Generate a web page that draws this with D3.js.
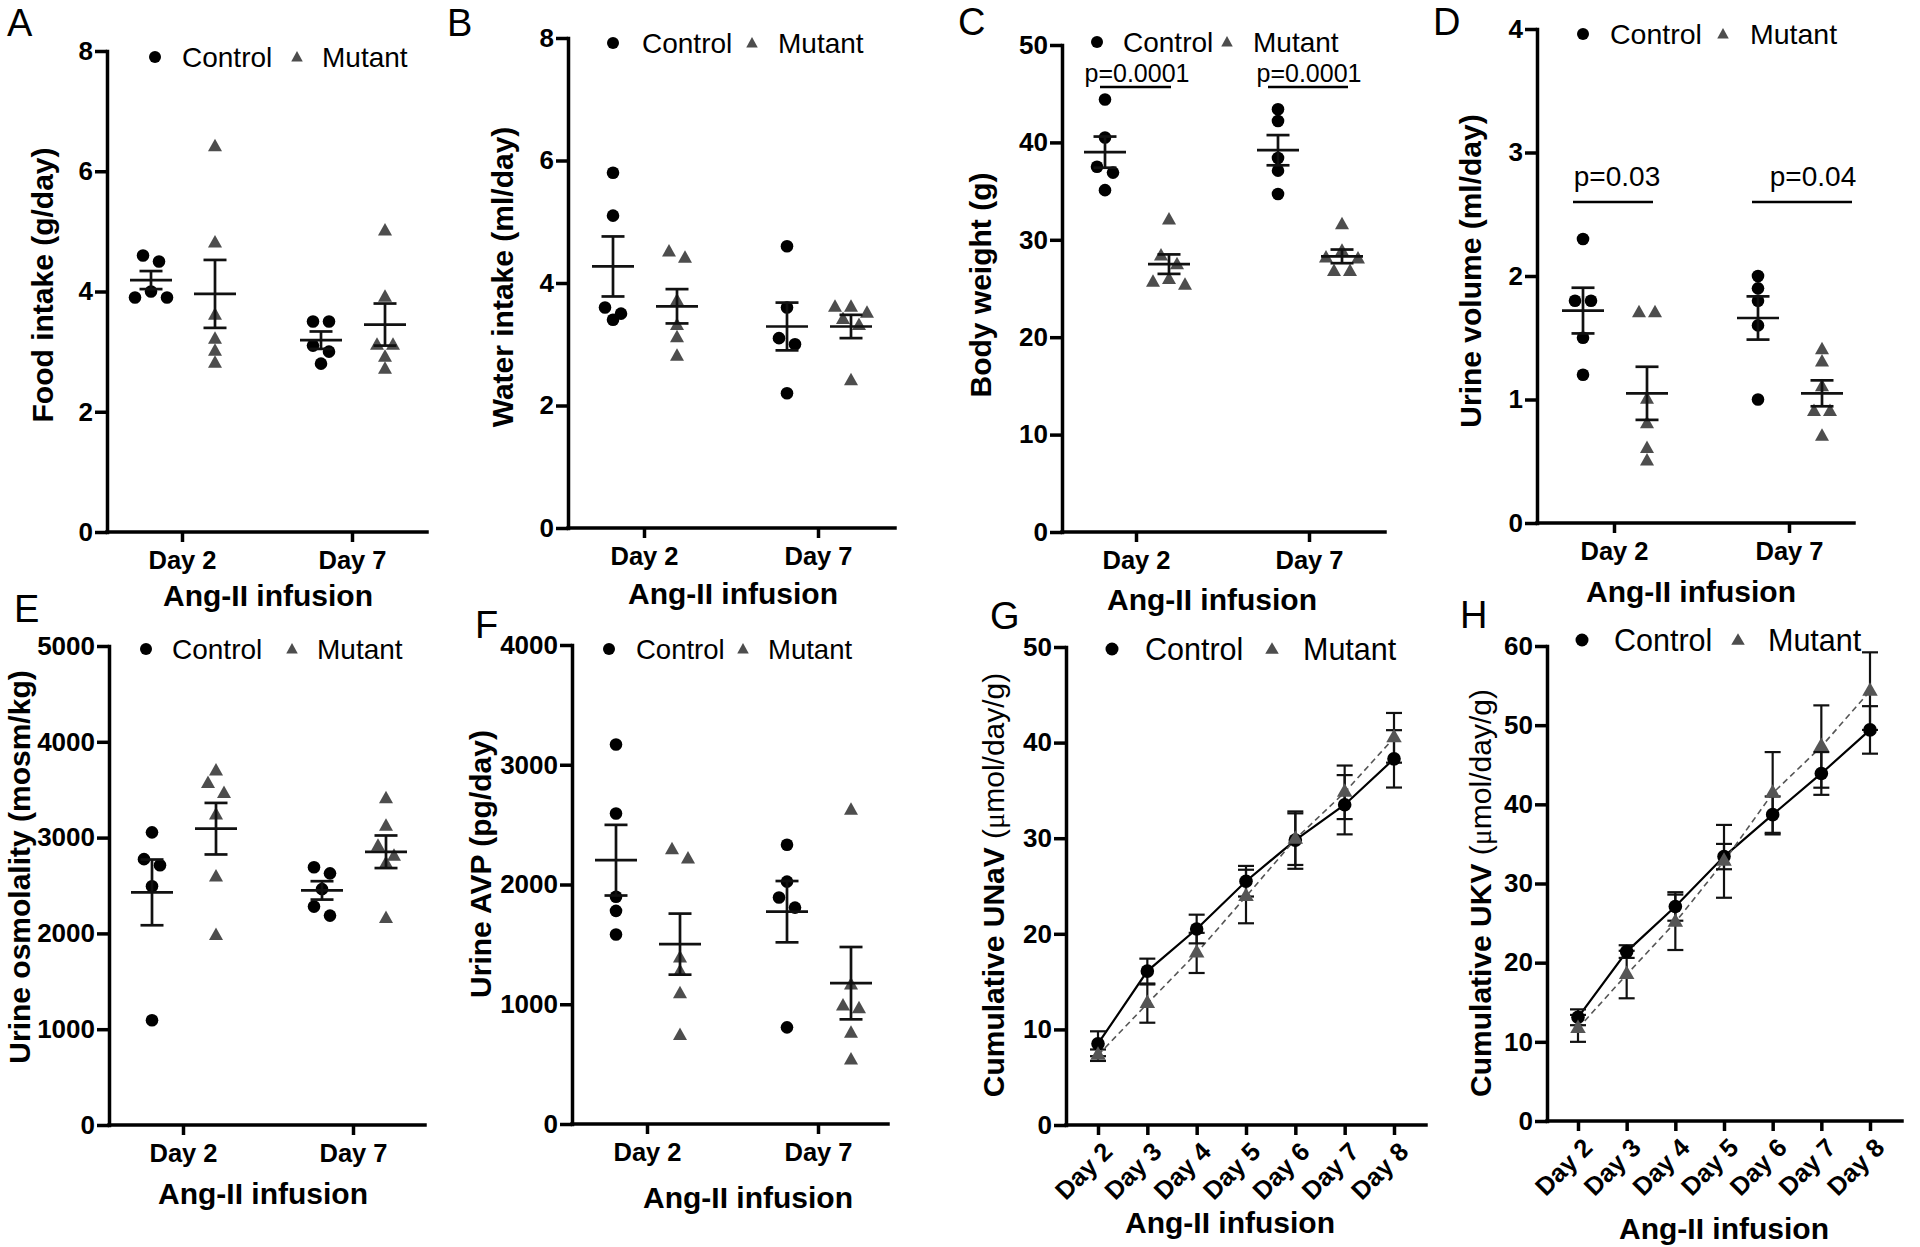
<!DOCTYPE html>
<html><head><meta charset="utf-8">
<script src="https://cdn.jsdelivr.net/npm/d3@7/dist/d3.min.js"></script>
<style>
body{margin:0;background:#fff;}
svg{display:block;font-family:"Liberation Sans",Arial,Helvetica,sans-serif;}
</style></head><body>
<svg id="chart" width="1920" height="1247"></svg>
<script>
// ---------------- DATA ----------------
const dayCats = ["Day 2", "Day 7"];
const seriesDays = ["Day 2","Day 3","Day 4","Day 5","Day 6","Day 7","Day 8"];
const groupNames = ["Control", "Mutant"];

// A: Food intake (g/day)
const foodTicks = [0, 2, 4, 6, 8];
const foodControl = [[4.6, 4.5, 4.0, 3.9, 3.9], [3.5, 3.5, 3.1, 3.0, 2.8]];
const foodMutant  = [[6.4, 4.8, 3.6, 3.2, 3.0, 2.8], [5.0, 3.9, 3.1, 3.1, 2.9, 2.7]];
const foodControlMean = [4.19, 3.19], foodControlSem = [0.15, 0.145];
const foodMutantMean  = [3.96, 3.45], foodMutantSem  = [0.565, 0.35];

// B: Water intake (ml/day)
const waterTicks = [0, 2, 4, 6, 8];
const waterControl = [[5.8, 5.1, 3.6, 3.5, 3.4], [4.6, 3.6, 3.1, 3.0, 2.2]];
const waterMutant  = [[4.5, 4.4, 3.7, 3.3, 3.1, 2.8], [3.6, 3.6, 3.5, 3.4, 3.3, 2.4]];
const waterControlMean = [4.27, 3.29], waterControlSem = [0.49, 0.39];
const waterMutantMean  = [3.62, 3.29], waterMutantSem  = [0.28, 0.19];

// C: Body weight (g)
const weightTicks = [0, 10, 20, 30, 40, 50];
const weightControl = [[44.4, 40.5, 37.5, 36.9, 35.1], [43.4, 42.2, 38.4, 37.1, 34.7]];
const weightMutant  = [[32.0, 28.3, 27.4, 25.9, 25.6, 25.3], [31.5, 28.8, 28.1, 28.0, 26.7, 26.7]];
const weightControlMean = [39.0, 39.2], weightControlSem = [1.6, 1.55];
const weightMutantMean  = [27.5, 28.3], weightMutantSem  = [1.0, 0.7];
const weightPLabels = ["p=0.0001", "p=0.0001"];

// D: Urine volume (ml/day)
const volumeTicks = [0, 1, 2, 3, 4];
const volumeControl = [[2.3, 1.8, 1.8, 1.5, 1.2], [2.0, 1.9, 1.8, 1.6, 1.0]];
const volumeMutant  = [[1.7, 1.7, 1.0, 0.8, 0.6, 0.5], [1.4, 1.3, 1.1, 0.9, 0.9, 0.7]];
const volumeControlMean = [1.72, 1.66], volumeControlSem = [0.185, 0.175];
const volumeMutantMean  = [1.05, 1.05], volumeMutantSem  = [0.215, 0.105];
const volumePLabels = ["p=0.03", "p=0.04"];

// E: Urine osmolality (mosm/kg)
const osmoTicks = [0, 1000, 2000, 3000, 4000, 5000];
const osmoControl = [[3055, 2775, 2712, 2492, 1093], [2691, 2627, 2462, 2280, 2186]];
const osmoMutant  = [[3691, 3560, 3458, 3233, 2585, 1975], [3403, 3114, 2907, 2801, 2725, 2153]];
const osmoControlMean = [2428, 2449], osmoControlSem = [343, 96];
const osmoMutantMean  = [3093, 2852], osmoMutantSem  = [269, 170];

// F: Urine AVP (pg/day)
const avpTicks = [0, 1000, 2000, 3000, 4000];
const avpControl = [[3169, 2593, 1898, 1780, 1583], [2332, 2024, 1892, 1807, 807]];
const avpMutant  = [[2288, 2210, 1383, 1271, 1085, 736], [2617, 1159, 983, 959, 756, 532]];
const avpControlMean = [2203, 1773], avpControlSem = [295, 256];
const avpMutantMean  = [1502, 1176], avpMutantSem  = [255, 302];

// G: Cumulative UNaV
const unavTicks = [0, 10, 20, 30, 40, 50];
const unavControlMean = [8.5, 16.1, 20.5, 25.5, 29.8, 33.5, 38.3];
const unavControlSem  = [1.3, 1.3, 1.5, 1.6, 3.0, 3.1, 3.0];
const unavMutantMean  = [7.3, 12.7, 18.0, 23.9, 29.9, 34.8, 40.5];
const unavMutantSem   = [0.6, 2.0, 2.1, 2.8, 2.7, 2.8, 2.6];

// H: Cumulative UKV
const ukvTicks = [0, 10, 20, 30, 40, 50, 60];
const ukvControlMean = [13.1, 21.4, 27.1, 33.4, 38.7, 43.9, 49.4];
const ukvControlSem  = [1.0, 0.8, 1.8, 1.6, 2.3, 2.7, 3.0];
const ukvMutantMean  = [11.7, 18.5, 25.1, 32.8, 41.4, 47.3, 54.3];
const ukvMutantSem   = [1.7, 3.0, 3.5, 4.6, 5.2, 5.2, 4.9];

// ---------------- STYLE ----------------
const CTRL = "#000", MUT = "#4d4d4d";
const AXW = 3.5, YTICK_FS = 26, XTICK_FS = 25.5, TITLE_FS = 30, LETTER_FS = 38;
const svg = d3.select("#chart");

function triPath(cx, cy, w, h) {
  return `M${cx},${cy - h * 2 / 3}L${cx + w / 2},${cy + h / 3}L${cx - w / 2},${cy + h / 3}Z`;
}

function panelLetter(t, x, y) {
  svg.append("text").attr("x", x).attr("y", y).attr("font-size", LETTER_FS).attr("fill", "#000").text(t);
}

function legend(L) {
  const g = svg.append("g");
  const fs = L.fs || 28;
  g.append("circle").attr("cx", L.cx).attr("cy", L.y).attr("r", L.r || 6).attr("fill", CTRL);
  g.append("text").attr("x", L.ctx).attr("y", L.y).attr("dy", "0.36em").attr("font-size", fs).text(groupNames[0]);
  g.append("path").attr("d", triPath(L.tx, L.y + 1, L.tw || 11.5, L.th || 10.5)).attr("fill", MUT);
  g.append("text").attr("x", L.mtx).attr("y", L.y).attr("dy", "0.36em").attr("font-size", fs).text(groupNames[1]);
}

function yTitle(parts, cx, cy) {
  const t = svg.append("text").attr("transform", `translate(${cx},${cy}) rotate(-90)`)
    .attr("text-anchor", "middle").attr("dy", "0.36em").attr("font-size", TITLE_FS).attr("font-weight", "bold");
  parts.forEach(p => {
    const s = t.append("tspan").text(p.t);
    if (p.serif) s.attr("font-family", '"Liberation Serif","DejaVu Serif",serif');
    if (p.normal) s.attr("font-weight", "normal");
  });
}

function xTitle(t, cx, cy) {
  svg.append("text").attr("x", cx).attr("y", cy).attr("dy", "0.36em").attr("text-anchor", "middle")
    .attr("font-size", TITLE_FS).attr("font-weight", "bold").text(t);
}

function styleAxis(ag) {
  ag.selectAll(".domain").attr("stroke", "#000").attr("stroke-width", AXW).attr("stroke-linecap", "square");
  ag.selectAll(".tick line").attr("stroke", "#000").attr("stroke-width", AXW);
  ag.selectAll("text").attr("fill", "#000").attr("font-weight", "bold");
  ag.attr("font-family", null);
}

function drawAxes(c, x, y, rotate) {
  const ya = d3.axisLeft(y).tickValues(c.ticks).tickSize(12).tickSizeOuter(0).tickPadding(2).tickFormat(d3.format("d"));
  const yg = svg.append("g").attr("transform", `translate(${c.x0},0)`).call(ya);
  yg.attr("font-size", YTICK_FS);
  styleAxis(yg);
  const xa = d3.axisBottom(x).tickSize(10).tickSizeOuter(0).tickPadding(9);
  const xg = svg.append("g").attr("transform", `translate(0,${c.yBot})`).call(xa);
  xg.attr("font-size", XTICK_FS);
  xg.select(".domain").remove();
  xg.append("line").attr("x1", c.x0).attr("x2", c.x1).attr("stroke", "#000").attr("stroke-width", AXW).attr("stroke-linecap", "square");
  styleAxis(xg);
  if (rotate) {
    xg.selectAll(".tick text").attr("text-anchor", "end").attr("x", -9).attr("y", 13).attr("dy", "0.7em")
      .attr("transform", "rotate(-45)");
  }
}

// GraphPad-style row placement of scatter points
function swarm(vals, y, spacing, tol) {
  const items = vals.map(v => ({ v, y: y(v) }));
  const sorted = items.slice().sort((a, b) => a.y - b.y);
  const rows = [];
  sorted.forEach(it => {
    const r = rows[rows.length - 1];
    if (r && Math.abs(it.y - r[0].y) < tol) r.push(it); else rows.push([it]);
  });
  rows.forEach(r => {
    const n = r.length;
    const pos = d3.range(n).map(k => (k - (n - 1) / 2) * spacing).sort((a, b) => Math.abs(a) - Math.abs(b) || a - b);
    r.forEach((it, k) => it.dx = pos[k]);
  });
  return items;
}

function scatterPanel(c) {
  const x = d3.scalePoint().domain(dayCats).range([c.xd2, c.xd7]);
  const y = d3.scaleLinear().domain([0, c.ticks[c.ticks.length - 1]]).range([c.yBot, c.yTop]);
  drawAxes(c, x, y, false);
  const groups = [
    { vals: c.control, mean: c.cMean, sem: c.cSem, off: -31, color: CTRL, shape: "c" },
    { vals: c.mutant, mean: c.mMean, sem: c.mSem, off: 33, color: MUT, shape: "t" }
  ];
  groups.forEach(gr => {
    dayCats.forEach((d, i) => {
      const cx = x(d) + gr.off;
      const pts = swarm(gr.vals[i], y, 16, 11);
      const g = svg.append("g");
      pts.forEach(p => {
        if (gr.shape === "c") g.append("circle").attr("cx", cx + p.dx).attr("cy", p.y).attr("r", 6.3).attr("fill", gr.color);
        else g.append("path").attr("d", triPath(cx + p.dx, p.y, 14, 12.5)).attr("fill", gr.color);
      });
      const m = gr.mean[i], s = gr.sem[i];
      const e = svg.append("g").attr("stroke", "#111").attr("stroke-width", 2.7);
      e.append("line").attr("x1", cx - 21).attr("x2", cx + 21).attr("y1", y(m)).attr("y2", y(m));
      e.append("line").attr("x1", cx).attr("x2", cx).attr("y1", y(m - s)).attr("y2", y(m + s));
      e.append("line").attr("x1", cx - 11.5).attr("x2", cx + 11.5).attr("y1", y(m + s)).attr("y2", y(m + s));
      e.append("line").attr("x1", cx - 11.5).attr("x2", cx + 11.5).attr("y1", y(m - s)).attr("y2", y(m - s));
    });
  });
  if (c.pLabels) {
    c.pLabels.forEach((t, i) => {
      const a = c.pPos[i], xc = x(dayCats[i]);
      svg.append("line").attr("x1", xc + a.l).attr("x2", xc + a.r).attr("y1", a.barY).attr("y2", a.barY)
        .attr("stroke", "#000").attr("stroke-width", 2.5);
      svg.append("text").attr("x", xc + a.tdx).attr("y", a.ty).attr("dy", "0.36em").attr("text-anchor", "middle")
        .attr("font-size", c.pFs).text(t);
    });
  }
  legend(c.leg);
  yTitle(c.ytitle, c.ytx, c.yty);
  xTitle("Ang-II infusion", c.xtx, c.xty);
  panelLetter(c.letter, c.lx, c.ly);
}

function linePanel(c) {
  const x = d3.scalePoint().domain(seriesDays).range([c.xd2, c.xd8]);
  const y = d3.scaleLinear().domain([0, c.ticks[c.ticks.length - 1]]).range([c.yBot, c.yTop]);
  drawAxes(c, x, y, true);
  const series = [
    { mean: c.cMean, sem: c.cSem, color: CTRL, dash: null, lw: 2.2, shape: "c" },
    { mean: c.mMean, sem: c.mSem, color: "#555", dash: "6,4", lw: 1.6, shape: "t" }
  ];
  const line = d3.line().x((d, i) => x(seriesDays[i])).y(d => y(d));
  series.forEach(s => {
    svg.append("path").attr("d", line(s.mean)).attr("fill", "none").attr("stroke", s.color)
      .attr("stroke-width", s.lw).attr("stroke-dasharray", s.dash);
  });
  series.forEach(s => {
    const e = svg.append("g").attr("stroke", "#111").attr("stroke-width", 2.2);
    s.mean.forEach((m, i) => {
      const cx = x(seriesDays[i]), sm = s.sem[i];
      e.append("line").attr("x1", cx).attr("x2", cx).attr("y1", y(m - sm)).attr("y2", y(m + sm));
      e.append("line").attr("x1", cx - 8).attr("x2", cx + 8).attr("y1", y(m + sm)).attr("y2", y(m + sm));
      e.append("line").attr("x1", cx - 8).attr("x2", cx + 8).attr("y1", y(m - sm)).attr("y2", y(m - sm));
    });
  });
  series.forEach(s => {
    s.mean.forEach((m, i) => {
      const cx = x(seriesDays[i]);
      if (s.shape === "c") svg.append("circle").attr("cx", cx).attr("cy", y(m)).attr("r", 6.8).attr("fill", s.color);
      else svg.append("path").attr("d", triPath(cx, y(m), 15.5, 13.5)).attr("fill", s.color);
    });
  });
  legend(c.leg);
  yTitle(c.ytitle, c.ytx, c.yty);
  xTitle("Ang-II infusion", c.xtx, c.xty);
  panelLetter(c.letter, c.lx, c.ly);
}

// ---------------- PANELS ----------------
scatterPanel({ letter: "A", lx: 7, ly: 36, x0: 107, x1: 427, yTop: 51, yBot: 532, xd2: 182, xd7: 352,
  ticks: foodTicks, control: foodControl, mutant: foodMutant,
  cMean: foodControlMean, cSem: foodControlSem, mMean: foodMutantMean, mSem: foodMutantSem,
  leg: { cx: 155, ctx: 182, tx: 297, mtx: 322, y: 57 },
  ytitle: [{ t: "Food intake (g/day)" }], ytx: 42, yty: 285, xtx: 268, xty: 595 });

scatterPanel({ letter: "B", lx: 447, ly: 36, x0: 568, x1: 895, yTop: 38, yBot: 528, xd2: 644, xd7: 818,
  ticks: waterTicks, control: waterControl, mutant: waterMutant,
  cMean: waterControlMean, cSem: waterControlSem, mMean: waterMutantMean, mSem: waterMutantSem,
  leg: { cx: 613, ctx: 642, tx: 752, mtx: 778, y: 43 },
  ytitle: [{ t: "Water intake (ml/day)" }], ytx: 502, yty: 277, xtx: 733, xty: 593 });

scatterPanel({ letter: "C", lx: 958, ly: 35, x0: 1062, x1: 1385, yTop: 45, yBot: 532, xd2: 1136, xd7: 1309,
  ticks: weightTicks, control: weightControl, mutant: weightMutant,
  cMean: weightControlMean, cSem: weightControlSem, mMean: weightMutantMean, mSem: weightMutantSem,
  pLabels: weightPLabels, pFs: 25,
  pPos: [{ l: -36, r: 35, barY: 87, ty: 73, tdx: 1 }, { l: -41, r: 39, barY: 87, ty: 73, tdx: 0 }],
  leg: { cx: 1097, ctx: 1123, tx: 1227, mtx: 1253, y: 42 },
  ytitle: [{ t: "Body weight (g)" }], ytx: 980, yty: 285, xtx: 1212, xty: 599 });

scatterPanel({ letter: "D", lx: 1433, ly: 35, x0: 1537, x1: 1854, yTop: 29, yBot: 523, xd2: 1614, xd7: 1789,
  ticks: volumeTicks, control: volumeControl, mutant: volumeMutant,
  cMean: volumeControlMean, cSem: volumeControlSem, mMean: volumeMutantMean, mSem: volumeMutantSem,
  pLabels: volumePLabels, pFs: 28,
  pPos: [{ l: -41, r: 39, barY: 202, ty: 176, tdx: 3 }, { l: -37, r: 63, barY: 202, ty: 176, tdx: 24 }],
  leg: { cx: 1583, ctx: 1610, tx: 1723, mtx: 1750, y: 34, fs: 28.5 },
  ytitle: [{ t: "Urine volume (ml/day)" }], ytx: 1470, yty: 271, xtx: 1691, xty: 591 });

scatterPanel({ letter: "E", lx: 14, ly: 622, x0: 109, x1: 425, yTop: 646, yBot: 1125, xd2: 183, xd7: 353,
  ticks: osmoTicks, control: osmoControl, mutant: osmoMutant,
  cMean: osmoControlMean, cSem: osmoControlSem, mMean: osmoMutantMean, mSem: osmoMutantSem,
  leg: { cx: 146, ctx: 172, tx: 292, mtx: 317, y: 649 },
  ytitle: [{ t: "Urine osmolality (mosm/kg)" }], ytx: 19, yty: 867, xtx: 263, xty: 1193 });

scatterPanel({ letter: "F", lx: 475, ly: 638, x0: 572, x1: 888, yTop: 645, yBot: 1124, xd2: 647, xd7: 818,
  ticks: avpTicks, control: avpControl, mutant: avpMutant,
  cMean: avpControlMean, cSem: avpControlSem, mMean: avpMutantMean, mSem: avpMutantSem,
  leg: { cx: 609, ctx: 636, tx: 743, mtx: 768, y: 649, fs: 27.5 },
  ytitle: [{ t: "Urine AVP (pg/day)" }], ytx: 480, yty: 864, xtx: 748, xty: 1197 });

linePanel({ letter: "G", lx: 990, ly: 629, x0: 1066, x1: 1426, yTop: 647, yBot: 1125, xd2: 1098, xd8: 1394,
  ticks: unavTicks, cMean: unavControlMean, cSem: unavControlSem, mMean: unavMutantMean, mSem: unavMutantSem,
  leg: { cx: 1112, ctx: 1145, tx: 1272, mtx: 1303, y: 649, r: 6.5, tw: 13.5, th: 11.5, fs: 30.5 },
  ytitle: [{ t: "Cumulative UNaV " }, { t: "(", normal: true }, { t: "μ", serif: true, normal: true }, { t: "mol/day/g)", normal: true }],
  ytx: 993, yty: 885, xtx: 1230, xty: 1222 });

linePanel({ letter: "H", lx: 1460, ly: 628, x0: 1547, x1: 1902, yTop: 646, yBot: 1121, xd2: 1578, xd8: 1870,
  ticks: ukvTicks, cMean: ukvControlMean, cSem: ukvControlSem, mMean: ukvMutantMean, mSem: ukvMutantSem,
  leg: { cx: 1582, ctx: 1614, tx: 1738, mtx: 1768, y: 640, r: 6.5, tw: 13.5, th: 11.5, fs: 30.5 },
  ytitle: [{ t: "Cumulative UKV " }, { t: "(", normal: true }, { t: "μ", serif: true, normal: true }, { t: "mol/day/g)", normal: true }],
  ytx: 1480, yty: 893, xtx: 1724, xty: 1228 });
</script>
</body></html>
